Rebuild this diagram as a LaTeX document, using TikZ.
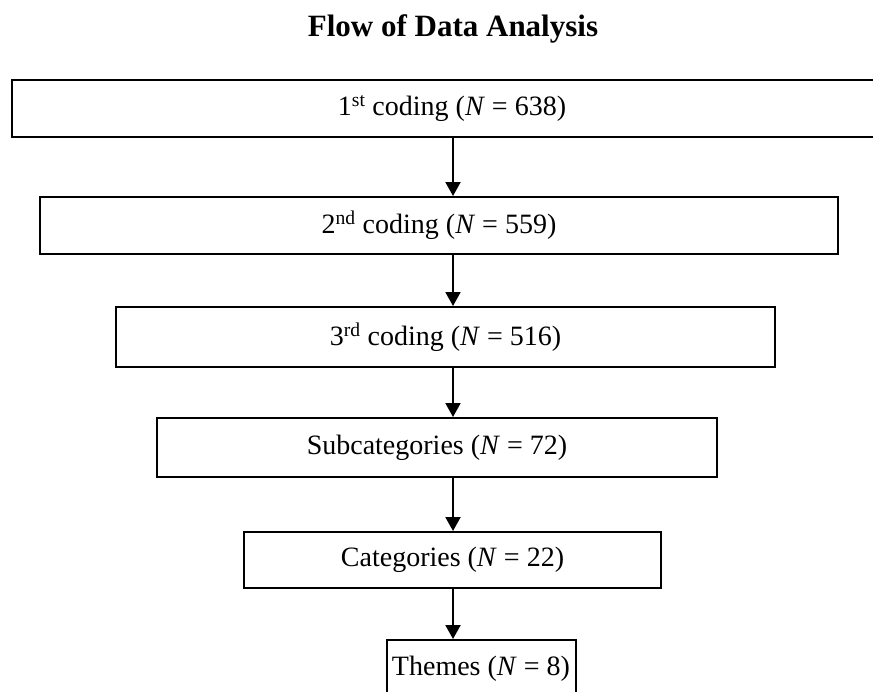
\documentclass[tikz,border=0pt]{standalone}
\usepackage{fontspec}
\setmainfont{Liberation Serif}
\usetikzlibrary{arrows.meta}
\begin{document}
\begin{tikzpicture}[x=1pt,y=-1pt,
  box/.style={draw, line width=2pt, inner sep=0pt, font=\fontsize{28}{31}\selectfont},
  arr/.style={line width=2pt, -{Triangle[length=14pt,width=15pt]}},
  ttl/.style={font=\fontsize{31}{34}\selectfont\bfseries}]
\useasboundingbox (0,0) rectangle (873,691);
\clip (0,0) rectangle (873,691);
\node[ttl, anchor=base] (title) at (453,36) {Flow of Data Analysis};
\node[box, minimum width=880pt, minimum height=57pt] (b1) at (452,108.5) {1\textsuperscript{st} coding (\textit{N} = 638)};
\node[box, minimum width=798pt, minimum height=57pt] (b2) at (439,225.5) {2\textsuperscript{nd} coding (\textit{N} = 559)};
\node[box, minimum width=659pt, minimum height=60pt] (b3) at (445.5,337) {3\textsuperscript{rd} coding (\textit{N} = 516)};
\node[box, minimum width=560pt, minimum height=59pt] (b4) at (437,447.5) {Subcategories (\textit{N} = 72)};
\node[box, minimum width=417pt, minimum height=56pt] (b5) at (452.5,560) {Categories (\textit{N} = 22)};
\node[box, minimum width=189pt, minimum height=57pt] (b6) at (481,668.5) {Themes (\textit{N} = 8)};
\coordinate (ax) at (453,0);
\draw[arr] (b1.south -| ax) -- (b2.north -| ax);
\draw[arr] (b2.south -| ax) -- (b3.north -| ax);
\draw[arr] (b3.south -| ax) -- (b4.north -| ax);
\draw[arr] (b4.south -| ax) -- (b5.north -| ax);
\draw[arr] (b5.south -| ax) -- (b6.north -| ax);
\end{tikzpicture}
\end{document}
